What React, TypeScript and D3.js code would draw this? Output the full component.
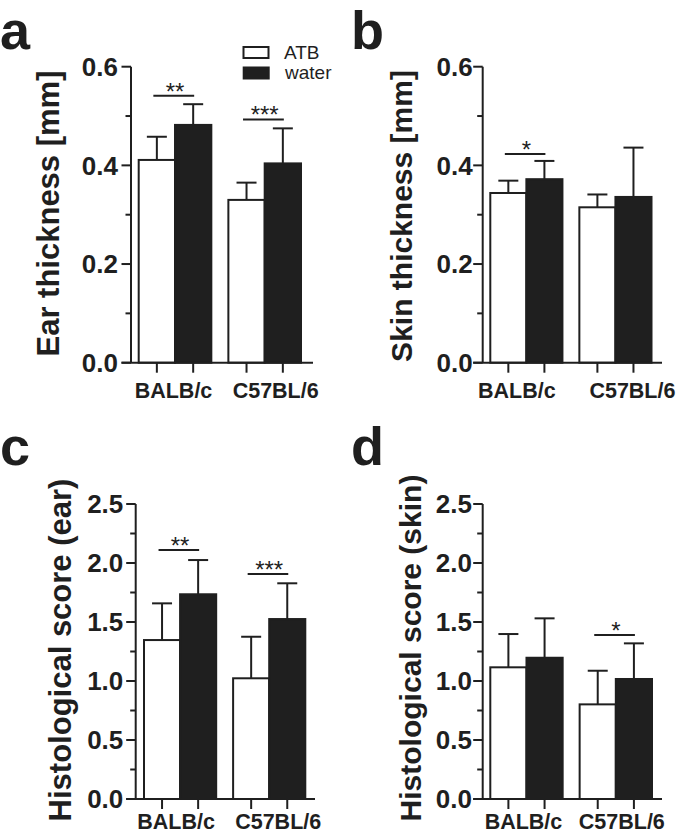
import React from "react";
import * as d3 from "d3";

const categories = ["BALB/c", "C57BL/6"];
const seriesNames = ["ATB", "water"];

// a: Ear thickness [mm]
const earATB = [0.411, 0.33];
const earATBErr = [0.047, 0.035];
const earWater = [0.482, 0.404];
const earWaterErr = [0.042, 0.071];
const earSigGroups = [0, 1];
const earSigLevels = [0.541, 0.493];
const earSigLabels = ["**", "***"];

// b: Skin thickness [mm]
const skinATB = [0.344, 0.315];
const skinATBErr = [0.025, 0.026];
const skinWater = [0.372, 0.336];
const skinWaterErr = [0.037, 0.1];
const skinSigGroups = [0];
const skinSigLevels = [0.423];
const skinSigLabels = ["*"];

// c: Histological score (ear)
const histEarATB = [1.347, 1.023];
const histEarATBErr = [0.311, 0.352];
const histEarWater = [1.735, 1.525];
const histEarWaterErr = [0.29, 0.303];
const histEarSigGroups = [0, 1];
const histEarSigLevels = [2.11, 1.906];
const histEarSigLabels = ["**", "***"];

// d: Histological score (skin)
const histSkinATB = [1.116, 0.802];
const histSkinATBErr = [0.282, 0.285];
const histSkinWater = [1.197, 1.017];
const histSkinWaterErr = [0.334, 0.302];
const histSkinSigGroups = [1];
const histSkinSigLevels = [1.39];
const histSkinSigLabels = ["*"];

const thickMajor = [0, 0.2, 0.4, 0.6];
const thickMajorLabels = ["0.0", "0.2", "0.4", "0.6"];
const thickMinor = [0.1, 0.3, 0.5];
const scoreMajor = [0, 0.5, 1, 1.5, 2, 2.5];
const scoreMajorLabels = ["0.0", "0.5", "1.0", "1.5", "2.0", "2.5"];
const scoreMinor = [0.25, 0.75, 1.25, 1.75, 2.25];

const FONT = "'Liberation Sans', Arial, Helvetica, sans-serif";
const INK = "#1f1f1f";

type PanelData = {
  letter: string;
  title: string;
  yMax: number;
  major: number[];
  majorLabels: string[];
  minor: number[];
  atb: number[];
  atbErr: number[];
  water: number[];
  waterErr: number[];
  sigGroups: number[];
  sigLevels: number[];
  sigLabels: string[];
};

type Layout = {
  axisX: number;
  xStart: number;
  xEnd: number;
  axisEnd: number;
  yTop: number;
  yBottom: number;
  tickGap: number;
  titleX: number;
  titleY: number;
  titleSize: number;
  catDx: number[];
  catY: number;
  letterX: number;
  letterY: number;
};

const panels: { d: PanelData; l: Layout }[] = [
  {
    d: {
      letter: "a", title: "Ear thickness [mm]", yMax: 0.6,
      major: thickMajor, majorLabels: thickMajorLabels, minor: thickMinor,
      atb: earATB, atbErr: earATBErr, water: earWater, waterErr: earWaterErr,
      sigGroups: earSigGroups, sigLevels: earSigLevels, sigLabels: earSigLabels,
    },
    l: {
      axisX: 131, xStart: 138.7, xEnd: 301, axisEnd: 313, yTop: 66.7, yBottom: 362.7,
      tickGap: 13, titleX: 59, titleY: 213.5, titleSize: 31, catDx: [-1.5, 11], catY: 398,
      letterX: 0, letterY: 49,
    },
  },
  {
    d: {
      letter: "b", title: "Skin thickness [mm]", yMax: 0.6,
      major: thickMajor, majorLabels: thickMajorLabels, minor: thickMinor,
      atb: skinATB, atbErr: skinATBErr, water: skinWater, waterErr: skinWaterErr,
      sigGroups: skinSigGroups, sigLevels: skinSigLevels, sigLabels: skinSigLabels,
    },
    l: {
      axisX: 482.7, xStart: 490.3, xEnd: 651.5, axisEnd: 662, yTop: 66.7, yBottom: 362.7,
      tickGap: 10, titleX: 412.3, titleY: 216, titleSize: 30, catDx: [-9.5, 17], catY: 398,
      letterX: 351, letterY: 49,
    },
  },
  {
    d: {
      letter: "c", title: "Histological score (ear)", yMax: 2.5,
      major: scoreMajor, majorLabels: scoreMajorLabels, minor: scoreMinor,
      atb: histEarATB, atbErr: histEarATBErr, water: histEarWater, waterErr: histEarWaterErr,
      sigGroups: histEarSigGroups, sigLevels: histEarSigLevels, sigLabels: histEarSigLabels,
    },
    l: {
      axisX: 135.7, xStart: 144, xEnd: 305.3, axisEnd: 315, yTop: 504, yBottom: 799,
      tickGap: 12.4, titleX: 70.5, titleY: 650, titleSize: 31, catDx: [-4, 9], catY: 829,
      letterX: 0, letterY: 465,
    },
  },
  {
    d: {
      letter: "d", title: "Histological score (skin)", yMax: 2.5,
      major: scoreMajor, majorLabels: scoreMajorLabels, minor: scoreMinor,
      atb: histSkinATB, atbErr: histSkinATBErr, water: histSkinWater, waterErr: histSkinWaterErr,
      sigGroups: histSkinSigGroups, sigLevels: histSkinSigLevels, sigLabels: histSkinSigLabels,
    },
    l: {
      axisX: 482.7, xStart: 490.3, xEnd: 652, axisEnd: 662, yTop: 504, yBottom: 799,
      tickGap: 10.7, titleX: 420.5, titleY: 648, titleSize: 30, catDx: [-3, 6], catY: 829,
      letterX: 351, letterY: 465,
    },
  },
];

function Panel({ d, l, legend }: { d: PanelData; l: Layout; legend?: boolean }) {
  const y = d3.scaleLinear().domain([0, d.yMax]).range([l.yBottom, l.yTop]);
  const x0 = d3.scaleBand<string>().domain(categories).range([l.xStart, l.xEnd]).paddingInner(0.19);
  const x1 = d3.scaleBand<string>().domain(seriesNames).range([0, x0.bandwidth()]);
  const means = [d.atb, d.water];
  const errs = [d.atbErr, d.waterErr];
  const fills = ["#ffffff", INK];
  const sw = 2;
  const bars: JSX.Element[] = [];
  const errBars: JSX.Element[] = [];
  const xTicks: JSX.Element[] = [];
  categories.forEach((cat, ci) => {
    seriesNames.forEach((s, si) => {
      const bx = (x0(cat) as number) + (x1(s) as number);
      const bw = x1.bandwidth();
      const cx = bx + bw / 2;
      const m = means[si][ci];
      const e = errs[si][ci];
      errBars.push(
        <g key={`e${ci}${si}`} stroke={INK} strokeWidth={sw}>
          <line x1={cx} x2={cx} y1={y(m)} y2={y(m + e)} />
          <line x1={cx - 10} x2={cx + 10} y1={y(m + e)} y2={y(m + e)} />
        </g>
      );
      bars.push(
        <rect key={`b${ci}${si}`} x={bx} y={y(m)} width={bw} height={y(0) - y(m)}
          fill={fills[si]} stroke={INK} strokeWidth={sw} />
      );
      xTicks.push(
        <line key={`t${ci}${si}`} x1={cx} x2={cx} y1={y(0)} y2={y(0) + 10} stroke={INK} strokeWidth={sw} />
      );
    });
  });

  return (
    <g fontFamily={FONT}>
      <text x={l.letterX} y={l.letterY} fontSize={54} fontWeight="bold" fill={INK}>{d.letter}</text>
      <text transform={`translate(${l.titleX},${l.titleY}) rotate(-90)`} textAnchor="middle"
        fontSize={l.titleSize} fontWeight="bold" fill={INK}>{d.title}</text>
      {errBars}
      {bars}
      {/* y axis */}
      <line x1={l.axisX} x2={l.axisX} y1={y(d.yMax)} y2={y(0)} stroke={INK} strokeWidth={sw} />
      {d.major.map((v, i) => (
        <g key={`M${i}`}>
          <line x1={l.axisX - 9.5} x2={l.axisX} y1={y(v)} y2={y(v)} stroke={INK} strokeWidth={sw} />
          <text x={l.axisX - l.tickGap} y={y(v)} dy="0.36em" textAnchor="end" fontSize={26}
            fontWeight="bold" fill={INK}>{d.majorLabels[i]}</text>
        </g>
      ))}
      {d.minor.map((v, i) => (
        <line key={`m${i}`} x1={l.axisX - 5.5} x2={l.axisX} y1={y(v)} y2={y(v)} stroke={INK} strokeWidth={sw} />
      ))}
      {/* x axis */}
      <line x1={l.axisX - 9.5} x2={l.axisEnd} y1={y(0)} y2={y(0)} stroke={INK} strokeWidth={sw} />
      {xTicks}
      {categories.map((cat, ci) => (
        <text key={`c${ci}`} x={(x0(cat) as number) + x0.bandwidth() / 2 + l.catDx[ci]} y={l.catY}
          textAnchor="middle" fontSize={21.5} fontWeight="bold" fill={INK}>{cat}</text>
      ))}
      {/* significance */}
      {d.sigGroups.map((g, i) => {
        const cat = categories[g];
        const c1 = (x0(cat) as number) + (x1(seriesNames[0]) as number) + x1.bandwidth() / 2;
        const c2 = (x0(cat) as number) + (x1(seriesNames[1]) as number) + x1.bandwidth() / 2;
        const ly = y(d.sigLevels[i]);
        return (
          <g key={`s${i}`}>
            <line x1={c1 - 3.5} x2={c2 + 1} y1={ly} y2={ly} stroke={INK} strokeWidth={sw} />
            <text x={(c1 + c2) / 2} y={ly + 4} textAnchor="middle" fontSize={24} fill={INK}>{d.sigLabels[i]}</text>
          </g>
        );
      })}
      {legend && (
        <g>
          <rect x={243.5} y={47} width={25} height={11} fill="#fff" stroke={INK} strokeWidth={sw} />
          <text x={284} y={59.3} fontSize={19} fill={INK}>{seriesNames[0]}</text>
          <rect x={242.7} y={66.5} width={27} height={13} fill={INK} />
          <text x={285} y={79} fontSize={19} fill={INK}>{seriesNames[1]}</text>
        </g>
      )}
    </g>
  );
}

export default function App() {
  return (
    <svg width={677} height={836} viewBox="0 0 677 836"
      style={{ position: "absolute", left: 0, top: 0, background: "#fff" }}>
      <rect x={0} y={0} width={677} height={836} fill="#fff" />
      {panels.map((p, i) => (
        <Panel key={i} d={p.d} l={p.l} legend={i === 0} />
      ))}
    </svg>
  );
}
